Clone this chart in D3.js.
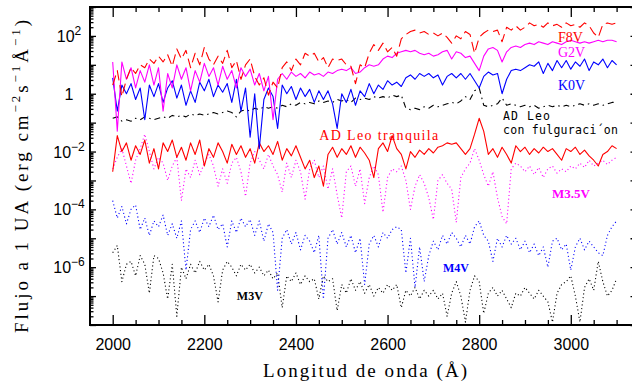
<!DOCTYPE html>
<html>
<head>
<meta charset="utf-8">
<script src="https://cdn.jsdelivr.net/npm/d3@7"></script>
<style>
  body { margin: 0; background: #fff; }
  svg { display: block; }
</style>
</head>
<body>
<div id="chart"></div>
<script>
// wavelength grid (Angstrom), one value every 10 A
const wave = d3.range(2000, 3101, 10);

// log10 of flux at 1 AU
const f8v = [
  0.3, 0.8, -0.1, 0.5, 0.9, 0.7, 1.0, 0.9, 1.2, 1.05,
  1.3, 1.1, 1.35, 0.95, 1.55, 1.2, 1.5, 0.9, 1.4, 1.0,
  1.6, 1.2, 1.0, 1.3, 1.05, 1.5, 0.9, 1.15, 0.5, 1.0,
  1.2, 0.6, 0.3, 0.55, -0.05, 0.4, 0.2, 0.9, 1.1, 0.8,
  1.2, 1.0, 1.4, 1.3, 1.4, 1.1, 1.25, 0.9, 1.2, 1.15,
  1.2, 1.0, 0.95, 0.35, 1.0, 0.9, 1.4, 1.7, 1.5, 1.75,
  1.45, 1.6, 1.3, 1.9, 2.05, 2.15, 2.2, 2.1, 2.15, 2.05,
  2.1, 2.0, 2.1, 1.95, 1.75, 2.0, 1.9, 2.15, 2.05, 1.4,
  1.95, 2.1, 2.2, 2.15, 2.2, 1.8, 2.3, 2.2, 2.35, 2.2,
  2.3, 2.45, 2.35, 2.4, 2.3, 2.45, 2.35, 2.4, 2.3, 2.45,
  2.35, 2.4, 2.3, 2.45, 2.35, 2.1, 1.95, 2.4, 2.45, 2.4, 2.45
];
const g2v = [
  1.1, -1.3, 1.1, 0.5, 0.9, 0.2, 0.8, 0.4, 1.0, 0.3,
  0.9, -0.6, 0.7, 0.2, 1.0, 0.5, 0.9, 0.1, 0.8, 0.4,
  1.05, 0.6, 0.9, 0.3, 0.95, 0.5, 0.8, 0.2, 0.9, 0.6,
  0.85, 0.3, 0.7, 0.1, 0.6, -0.9, 0.5, 0.7, 0.5, 0.75,
  0.6, 0.7, 0.55, 0.75, 0.65, 0.7, 0.6, 0.75, 0.7, 0.8,
  0.85, 0.8, 0.9, 0.7, 0.75, 0.9, 1.0, 0.95, 1.0, 1.2,
  1.3, 1.25, 1.4, 1.45, 1.5, 1.45, 1.5, 1.4, 1.35, 1.4,
  1.3, 1.35, 1.45, 1.5, 1.2, 1.45, 1.4, 1.25, 1.3, 1.05,
  0.8, 1.3, 1.55, 1.6, 1.5, 1.1, 1.45, 1.6, 1.65, 1.6,
  1.7, 1.75, 1.7, 1.8, 1.75, 1.7, 1.8, 1.75, 1.7, 1.8,
  1.85, 1.8, 1.75, 1.8, 1.75, 1.8, 1.85, 1.8, 1.85, 1.85, 1.8
];
const k0v = [
  0.55, -0.6, 0.3, 0.0, 0.35, -0.2, 0.2, -0.9, 0.3, -0.1,
  0.35, -0.3, 0.2, 0.45, -0.15, 0.3, -0.4, 0.1, -0.3, 0.4,
  0.1, 0.5, -0.1, 0.3, 0.05, 0.35, -0.3, 0.5, -0.6, 0.2,
  -1.5, 0.0, -1.9, -0.2, 0.2, -0.1, -1.2, 0.3, 0.0, 0.25,
  -0.2, 0.2, -0.1, 0.15, -0.3, 0.1, -0.2, 0.1, -0.35, -1.2,
  0.0, -0.3, 0.15, -0.4, 0.1, -0.1, 0.35, 0.0, 0.3, 0.15,
  0.45, 0.3, 0.4, 0.25, 0.55, 0.65, 0.5, 0.7, 0.6, 0.7,
  0.55, 0.65, 0.3, 0.6, 0.7, 0.55, 0.7, 0.5, 0.7, 0.45,
  0.2, 0.6, 0.75, 0.65, 0.7, 0.0, 0.5, 0.8, 0.85, 0.8,
  0.9, 1.0, 0.95, 1.1, 0.7, 1.05, 0.8, 1.15, 0.9, 1.15,
  0.85, 1.1, 0.95, 1.2, 0.8, 1.1, 1.0, 1.2, 0.9, 1.15, 1.0
];
const adLeoFlare = [
  -0.85, -0.8, -0.95, -0.9, -0.95, -0.85, -0.9, -0.8, -0.85, -0.9,
  -0.85, -0.8, -0.85, -0.75, -0.8, -0.75, -0.8, -0.7, -0.75, -0.7,
  -0.75, -0.7, -0.65, -0.7, -0.65, -0.6, -0.65, -0.8, -0.6, -0.55,
  -0.6, -0.5, -0.55, -0.45, -0.5, -0.45, -0.5, -0.4, -0.45, -0.35,
  -0.4, -0.3, -0.35, -0.3, -0.35, -0.25, -0.3, -0.25, -0.3, -0.2,
  -0.25, -0.2, -0.3, -0.15, -0.2, -0.15, -0.2, -0.1, -0.15, -0.1,
  -0.15, -0.05, -0.1, -0.05, -0.5, -0.55, -0.5, -0.55, -0.45, -0.5,
  -0.4, -0.45, -0.4, -0.35, -0.3, -0.35, -0.25, -0.1, -0.2, 0.1,
  0.2, -0.4, -0.45, -0.4, -0.35, -0.15, -0.4, -0.35, -0.4, -0.45,
  -0.4, -0.45, -0.4, -0.5, -0.45, -0.4, -0.45, -0.4, -0.45, -0.4,
  -0.45, -0.4, -0.35, -0.4, -0.35, -0.4, -0.35, -0.4, -0.35, -0.3, -0.3
];
const adLeoQuiet = [
  -2.7, -1.45, -2.0, -1.7, -2.3, -1.8, -2.1, -1.6, -2.4, -1.9,
  -2.6, -1.7, -2.0, -1.6, -2.2, -1.85, -2.3, -1.7, -2.1, -1.6,
  -2.5, -1.9, -2.2, -1.7, -2.0, -2.4, -1.75, -2.1, -1.8, -2.2,
  -1.9, -2.4, -1.7, -2.0, -1.8, -2.1, -1.65, -2.3, -1.9, -2.15,
  -1.8, -2.2, -2.6, -2.3, -2.9, -2.5, -3.2, -2.1, -1.85, -2.2,
  -1.9, -2.1, -1.8, -2.2, -1.85, -2.05, -2.3, -2.9, -1.9, -1.7,
  -2.0, -1.45, -1.9, -2.1, -2.6, -2.0, -2.2, -1.95, -2.1, -1.9,
  -2.05, -1.85, -1.8, -1.7, -1.75, -1.7, -1.9, -2.1, -1.9, -1.4,
  -0.85, -1.3, -2.1, -1.9, -2.2, -1.85, -2.1, -2.4, -1.8, -2.0,
  -1.85, -2.1, -1.9, -2.05, -1.85, -2.0, -1.9, -2.1, -2.3, -1.9,
  -2.0, -1.85, -2.1, -1.95, -2.15, -2.3, -2.5, -2.1, -2.0, -1.8, -1.9
];
const m35v = [
  -2.6, -2.2, -1.9, -2.5, -3.1, -2.3, -1.9, -1.4, -2.0, -2.6,
  -2.2, -2.4, -3.0, -2.5, -2.2, -3.7, -2.6, -2.9, -2.3, -2.8,
  -2.4, -2.1, -2.5, -3.2, -2.6, -3.1, -2.4, -2.2, -2.7, -3.55,
  -2.4, -2.0, -2.3, -2.6, -2.1, -2.5, -2.8, -3.4, -2.4, -2.9,
  -2.3, -2.7, -3.65, -2.6, -2.3, -2.9, -2.5, -3.3, -2.6, -3.5,
  -4.3, -2.7, -2.5, -3.2, -2.6, -3.8, -2.9, -2.5, -2.8, -4.1,
  -2.9, -2.6, -2.7, -2.5, -3.0, -4.0, -3.2, -2.8, -3.1, -3.6,
  -4.35, -3.0, -2.8, -3.1, -3.3, -4.45, -2.9, -2.6, -2.4, -1.9,
  -2.3, -2.8, -3.2, -2.7, -3.6, -4.25, -4.5, -2.6, -2.4, -2.5,
  -2.7, -2.5, -2.8, -2.55, -2.9, -2.6, -2.5, -2.75, -2.6, -2.7,
  -2.5, -2.6, -2.4, -2.55, -2.3, -2.5, -2.4, -2.3, -2.45, -2.3, -2.2
];
const m4v = [
  -3.7, -4.3, -3.9, -4.5, -4.0, -3.85, -4.7, -4.3, -4.9, -4.4,
  -4.6, -4.2, -4.9, -4.5, -5.0, -4.4, -6.1, -4.7, -4.4, -4.8,
  -4.3, -4.6, -4.2, -4.7, -4.5, -5.3, -4.4, -4.8, -4.3, -4.6,
  -4.35, -4.9, -4.4, -5.1, -4.5, -4.8, -6.8, -5.0, -4.7, -5.2,
  -4.8, -5.4, -4.9, -5.1, -5.5, -4.9, -7.1, -5.0, -4.7, -5.2,
  -4.8, -5.3, -4.9, -5.5, -5.0, -6.6, -5.2, -4.9, -5.3, -4.8,
  -5.0, -4.7, -4.6, -4.7, -6.2, -5.0, -6.7, -5.3, -6.5, -5.6,
  -5.1, -5.4, -4.9, -5.2, -4.8, -5.0, -5.3, -4.9, -5.2, -4.6,
  -4.4, -4.9, -5.1, -5.8, -5.0, -5.3, -4.9, -5.2, -5.0, -5.4,
  -5.1, -5.5, -5.2, -5.6, -5.3, -6.0, -5.1, -5.0, -5.4, -5.2,
  -6.1, -5.3, -5.0, -5.4, -5.1, -5.3, -5.5, -5.6, -4.9, -4.6, -4.4
];
const m3v = [
  -5.5, -5.25, -6.5, -5.9, -5.8, -6.3, -5.6, -5.9, -6.9, -5.6,
  -5.7, -6.2, -7.1, -5.9, -7.7, -6.0, -6.4, -5.9, -6.2, -5.8,
  -6.1, -5.9, -6.3, -7.2, -6.1, -5.8, -6.0, -6.3, -5.9, -6.1,
  -5.9, -6.2, -6.0, -6.3, -6.1, -6.4, -6.2, -7.4, -6.3, -6.5,
  -6.2, -6.6, -6.3, -6.5, -6.4, -7.1, -6.3, -6.5, -6.4, -7.5,
  -6.6, -6.9, -6.4, -6.8, -6.5, -6.9, -6.6, -7.0, -6.7, -6.9,
  -6.6, -6.8, -6.6, -7.4, -6.8, -7.0, -6.7, -7.1, -6.8, -7.0,
  -6.8, -7.1, -6.9, -7.7, -6.9, -6.5, -7.0, -7.9, -6.8, -6.3,
  -6.5, -7.6, -6.9, -6.7, -7.0, -6.8, -7.1, -7.4, -6.9, -7.0,
  -6.7, -6.9, -7.1, -6.8, -7.0, -7.2, -7.9, -6.9, -6.6, -6.5,
  -6.3, -7.0, -7.9, -6.7, -6.4, -6.8, -5.8, -6.5, -7.0, -6.8, -6.4
];

const xMajor = [2000, 2200, 2400, 2600, 2800, 3000];
const yLabelExp = [2, 0, -2, -4, -6];

const width = 632, height = 383;
const svg = d3.select('#chart').append('svg')
  .attr('width', width)
  .attr('height', height);

const x = d3.scaleLinear().domain([1950, 3150]).range([89.8, 639.5]);
const y = d3.scaleLog().domain([1e-8, 1e3]).range([325, 7]);

const xMinor = d3.range(1950, 3151, 50).filter(v => !xMajor.includes(v));
const yMajor = d3.range(-8, 4).map(e => Math.pow(10, e));
const yMinor = [];
for (let e = -8; e < 3; e++) {
  for (let m = 2; m < 10; m++) yMinor.push(m * Math.pow(10, e));
}

// axes, ticks pointing inside
function axisGroup(axis, transform) {
  const g = svg.append('g').attr('transform', transform).call(axis);
  g.select('.domain').remove();
  g.selectAll('line').attr('stroke', '#000').attr('stroke-width', 1.3);
  return g;
}
const fmtNone = () => '';

axisGroup(d3.axisBottom(x).tickValues(xMajor).tickSize(-10).tickPadding(13.6).tickFormat(d3.format('d')), 'translate(0,325)')
  .selectAll('text')
  .attr('font-family', 'Liberation Sans, Arial, sans-serif')
  .attr('font-size', 16)
  .attr('fill', '#000');
axisGroup(d3.axisBottom(x).tickValues(xMinor).tickSize(-5).tickFormat(fmtNone), 'translate(0,325)');
axisGroup(d3.axisTop(x).tickValues(xMajor).tickSize(-10).tickFormat(fmtNone), 'translate(0,7)');
axisGroup(d3.axisTop(x).tickValues(xMinor).tickSize(-5).tickFormat(fmtNone), 'translate(0,7)');
axisGroup(d3.axisLeft(y).tickValues(yMajor).tickSize(-6).tickFormat(fmtNone), 'translate(90,0)');
axisGroup(d3.axisLeft(y).tickValues(yMinor).tickSize(-3.5).tickFormat(fmtNone), 'translate(90,0)');
axisGroup(d3.axisRight(y).tickValues(yMajor).tickSize(-9).tickFormat(fmtNone), 'translate(639.5,0)');
axisGroup(d3.axisRight(y).tickValues(yMinor).tickSize(-4).tickFormat(fmtNone), 'translate(639.5,0)');

// y tick labels: 10^n, with "1" for n = 0
const yLab = svg.append('g')
  .attr('font-family', 'Liberation Sans, Arial, sans-serif')
  .attr('font-size', 16)
  .attr('text-anchor', 'middle');
yLabelExp.forEach(e => {
  const t = yLab.append('text')
    .attr('x', 69)
    .attr('y', y(Math.pow(10, e)) + 6);
  if (e === 0) {
    t.text('1');
  } else {
    t.append('tspan').text('10');
    t.append('tspan').attr('font-size', 12).attr('dy', -7)
      .text(e < 0 ? '\u2212' + (-e) : String(e));
  }
});

// frame
svg.append('rect')
  .attr('x', 90).attr('y', 7)
  .attr('width', 549.5).attr('height', 318)
  .attr('fill', 'none')
  .attr('stroke', '#000')
  .attr('stroke-width', 2);

// spectra
const series = [
  { values: m3v, color: '#000000', dash: '1.1,2.6' },
  { values: m4v, color: '#0000ff', dash: '1.1,2.6' },
  { values: m35v, color: '#ff00ff', dash: '1.1,2.6' },
  { values: adLeoQuiet, color: '#ff0000', dash: null },
  { values: adLeoFlare, color: '#000000', dash: '6,4,1.5,4' },
  { values: k0v, color: '#0000ff', dash: null },
  { values: g2v, color: '#ff00ff', dash: null },
  { values: f8v, color: '#ff0000', dash: '10,5' }
];

const line = d3.line()
  .x((d, i) => x(wave[i]))
  .y(d => y(Math.pow(10, d)));

svg.append('g').selectAll('path')
  .data(series)
  .enter()
  .append('path')
  .attr('d', d => line(d.values))
  .attr('fill', 'none')
  .attr('stroke', d => d.color)
  .attr('stroke-width', 1.1)
  .attr('stroke-dasharray', d => d.dash)
  .attr('stroke-linejoin', 'round');

// labels placed at (wavelength, log flux)
const notes = [
  { text: 'F8V', wl: 2972, lf: 1.78, color: '#ff0000', font: 'Liberation Serif, serif', size: 14, weight: 'normal' },
  { text: 'G2V', wl: 2972, lf: 1.26, color: '#ff00ff', font: 'Liberation Serif, serif', size: 14, weight: 'normal' },
  { text: 'K0V', wl: 2972, lf: 0.12, color: '#0000ff', font: 'Liberation Serif, serif', size: 14, weight: 'normal' },
  { text: 'AD Leo tranquila', wl: 2451, lf: -1.61, color: '#ff0000', font: 'Liberation Serif, serif', size: 14, weight: 'normal', len: 119 },
  { text: 'AD Leo', wl: 2852, lf: -0.91, color: '#000000', font: 'DejaVu Sans Mono, monospace', size: 11.5, weight: 'normal', len: 47 },
  { text: 'con fulguraci\u00b4on', wl: 2852, lf: -1.40, color: '#000000', font: 'DejaVu Sans Mono, monospace', size: 11.5, weight: 'normal', len: 115 },
  { text: 'M3.5V', wl: 2959, lf: -3.61, color: '#ff00ff', font: 'Liberation Serif, serif', size: 13, weight: 'bold' },
  { text: 'M4V', wl: 2721, lf: -6.17, color: '#0000ff', font: 'Liberation Serif, serif', size: 12, weight: 'bold' },
  { text: 'M3V', wl: 2271, lf: -7.14, color: '#000000', font: 'Liberation Serif, serif', size: 12, weight: 'bold' }
];

notes.forEach(n => {
  const t = svg.append('text')
    .attr('x', x(n.wl))
    .attr('y', y(Math.pow(10, n.lf)))
    .attr('fill', n.color)
    .attr('font-family', n.font)
    .attr('font-size', n.size)
    .attr('font-weight', n.weight)
    .text(n.text);
  if (n.len) t.attr('textLength', n.len).attr('lengthAdjust', 'spacing');
});

// axis titles
svg.append('text')
  .attr('x', 365)
  .attr('y', 377)
  .attr('text-anchor', 'middle')
  .attr('font-family', 'Liberation Serif, serif')
  .attr('font-size', 19)
  .attr('textLength', 204)
  .attr('lengthAdjust', 'spacing')
  .text('Longitud de onda (\u00c5)');

const yt = svg.append('text')
  .attr('transform', 'translate(28,176.5) rotate(-90)')
  .attr('text-anchor', 'middle')
  .attr('font-family', 'Liberation Serif, serif')
  .attr('font-size', 19)
  .attr('textLength', 313)
  .attr('lengthAdjust', 'spacing');
yt.append('tspan').text('Flujo a 1 UA  (erg cm');
yt.append('tspan').attr('font-size', 13).attr('dy', -8).text('\u22122');
yt.append('tspan').attr('dy', 8).text('s');
yt.append('tspan').attr('font-size', 13).attr('dy', -8).text('\u22121');
yt.append('tspan').attr('dy', 8).text('\u00c5');
yt.append('tspan').attr('font-size', 13).attr('dy', -8).text('\u22121');
yt.append('tspan').attr('dy', 8).text(')');
</script>
</body>
</html>
